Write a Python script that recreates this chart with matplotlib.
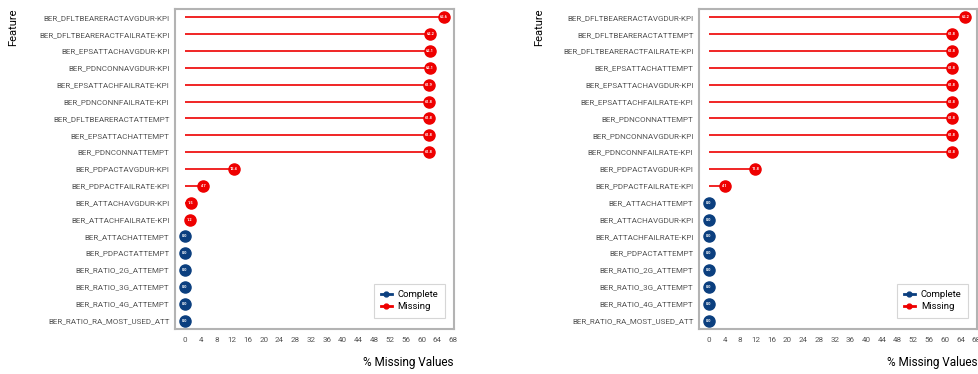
import matplotlib
matplotlib.use("Agg")
import matplotlib.pyplot as plt
from matplotlib.lines import Line2D

plt.rcParams['font.family'] = ['Roboto', 'DejaVu Sans']

# Left panel
features_a = [
    "BER_DFLTBEARERACTAVGDUR-KPI", "BER_DFLTBEARERACTFAILRATE-KPI",
    "BER_EPSATTACHAVGDUR-KPI", "BER_PDNCONNAVGDUR-KPI",
    "BER_EPSATTACHFAILRATE-KPI", "BER_PDNCONNFAILRATE-KPI",
    "BER_DFLTBEARERACTATTEMPT", "BER_EPSATTACHATTEMPT",
    "BER_PDNCONNATTEMPT", "BER_PDPACTAVGDUR-KPI",
    "BER_PDPACTFAILRATE-KPI", "BER_ATTACHAVGDUR-KPI",
    "BER_ATTACHFAILRATE-KPI", "BER_ATTACHATTEMPT",
    "BER_PDPACTATTEMPT", "BER_RATIO_2G_ATTEMPT",
    "BER_RATIO_3G_ATTEMPT", "BER_RATIO_4G_ATTEMPT",
    "BER_RATIO_RA_MOST_USED_ATT",
]
missing_a = [65.6, 62.2, 62.1, 62.1, 61.9, 61.8, 61.8, 61.8, 61.8,
             12.4, 4.7, 1.5, 1.2, 0.0, 0.0, 0.0, 0.0, 0.0, 0.0]

# Right panel
features_b = [
    "BER_DFLTBEARERACTAVGDUR-KPI", "BER_DFLTBEARERACTATTEMPT",
    "BER_DFLTBEARERACTFAILRATE-KPI", "BER_EPSATTACHATTEMPT",
    "BER_EPSATTACHAVGDUR-KPI", "BER_EPSATTACHFAILRATE-KPI",
    "BER_PDNCONNATTEMPT", "BER_PDNCONNAVGDUR-KPI",
    "BER_PDNCONNFAILRATE-KPI", "BER_PDPACTAVGDUR-KPI",
    "BER_PDPACTFAILRATE-KPI", "BER_ATTACHATTEMPT",
    "BER_ATTACHAVGDUR-KPI", "BER_ATTACHFAILRATE-KPI",
    "BER_PDPACTATTEMPT", "BER_RATIO_2G_ATTEMPT",
    "BER_RATIO_3G_ATTEMPT", "BER_RATIO_4G_ATTEMPT",
    "BER_RATIO_RA_MOST_USED_ATT",
]
missing_b = [65.2, 61.8, 61.8, 61.8, 61.8, 61.8, 61.8, 61.8, 61.8,
             11.8, 4.1, 0.0, 0.0, 0.0, 0.0, 0.0, 0.0, 0.0, 0.0]

xticks = list(range(0, 69, 4))

RED = "#ee0000"
BLUE = "#0b3f7f"
SPINE = "#b3b3b3"
TXT = "#555555"

fig = plt.figure(figsize=(9.79, 3.74), dpi=100)
ax_a = fig.add_axes([0.1787, 0.1203, 0.2850, 0.8557])
ax_b = fig.add_axes([0.7140, 0.1203, 0.2840, 0.8557])


def lollipop(ax, feats, vals, feat_x):
    n = len(feats)
    ys = list(range(n))
    for y, v in zip(ys, vals):
        col = RED if v > 0 else BLUE
        if v > 0:
            ax.hlines(y, 0, v, color=col, lw=1.2, zorder=2)
        ax.plot(v, y, 'o', ms=8, color=col, mec=col, zorder=3)
        ax.text(v, y, f"{v:.1f}", color="white", fontsize=2.8,
                ha="center", va="center", zorder=4, fontweight="bold")
    ax.set_yticks(ys)
    ax.set_yticklabels(feats, fontsize=5.8, color=TXT)
    ax.set_ylim(n - 0.5, -0.5)
    ax.set_xlim(-2.5, 68.2)
    ax.set_xticks(xticks)
    ax.set_xticklabels([str(t) for t in xticks], fontsize=5.8, color=TXT)
    ax.tick_params(axis="both", length=0, pad=4)
    ax.tick_params(axis="x", pad=6)
    for s in ax.spines.values():
        s.set_color(SPINE)
        s.set_linewidth(1.5)
    ax.set_xlabel("% Missing Values", fontsize=8.5, loc="right", labelpad=9)
    fig.text(feat_x, 0.976, "Feature", rotation=90, fontsize=8,
             ha="left", va="top")
    handles = [
        Line2D([0], [0], color=BLUE, lw=2, marker="o", ms=3.5),
        Line2D([0], [0], color=RED, lw=2, marker="o", ms=3.5),
    ]
    leg = ax.legend(handles, ["Complete", "Missing"], loc="lower right",
                    fontsize=6.8, frameon=True, fancybox=False,
                    handlelength=1.2, handletextpad=0.6,
                    borderpad=0.7, labelspacing=0.3,
                    bbox_to_anchor=(0.985, 0.02))
    leg.get_frame().set_edgecolor("#cccccc")
    leg.get_frame().set_linewidth(0.8)


lollipop(ax_a, features_a, missing_a, 0.008)
lollipop(ax_b, features_b, missing_b, 0.546)

fig.savefig("out.png", dpi=100)
